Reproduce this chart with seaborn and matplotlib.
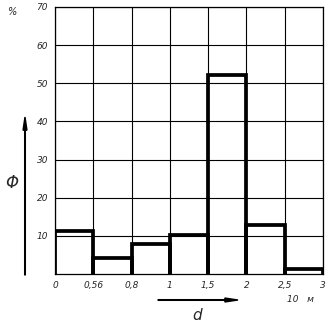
import numpy as np
import pandas as pd
import matplotlib
matplotlib.use("Agg")
import matplotlib.pyplot as plt
import seaborn as sns

# границы интервалов (подписи оси x) и доля частиц, %
edge_labels = ["0", "0,56", "0,8", "1", "1,5", "2", "2,5", "3"]
phi_values = [11.3, 4.1, 7.8, 10.2, 52.2, 12.9, 1.3]
y_ticks = [10, 20, 30, 40, 50, 60, 70]

sns.set_theme(style="white")
plt.rcParams["font.family"] = ["DejaVu Sans"]

df = pd.DataFrame({
    "pos": np.arange(len(phi_values)) + 0.5,
    "phi": phi_values,
})

fig = plt.figure(figsize=(3.28, 3.29), dpi=100)
ax = fig.add_axes([55 / 328, 55 / 329, 268 / 328, 267 / 329])

sns.histplot(data=df, x="pos", weights="phi", binwidth=1,
             binrange=(0, len(phi_values)),
             element="bars", fill=False, color="black", linewidth=2.7, ax=ax)

# опускаем нижнюю кромку столбцов под ось, чтобы её обрезало
for p in ax.patches:
    h = p.get_height()
    p.set_y(-2)
    p.set_height(h + 2)

ax.set_xlim(0, len(edge_labels) - 1)
ax.set_ylim(0, 70)
ax.set_xticks(np.arange(len(edge_labels)))
ax.set_xticklabels(edge_labels)
ax.set_yticks(y_ticks)
ax.set_yticklabels([str(v) for v in y_ticks])
ax.tick_params(length=0, labelsize=6.5, pad=5)
for lab in ax.get_xticklabels() + ax.get_yticklabels():
    lab.set_fontstyle("italic")

ax.grid(True, color="black", linewidth=0.8)
ax.set_axisbelow(True)
for sp in ax.spines.values():
    sp.set_color("black")
    sp.set_linewidth(0.9)
ax.set_xlabel("")
ax.set_ylabel("")

# стрелки и обозначения осей
fig.text(12 / 328, 1 - 12 / 329, "%", fontsize=7, style="italic", ha="center", va="center")
fig.text(300 / 328, 1 - 300 / 329, "10   м", fontsize=6.5, style="italic", ha="center", va="center")
fig.text(197 / 328, 1 - 316 / 329, "d", fontsize=11, style="italic", ha="center", va="center")
fig.text(12 / 328, 1 - 183 / 329, "Φ", fontsize=12, style="italic", ha="center", va="center")
fig.patches.append(matplotlib.patches.FancyArrow(
    158 / 328, 1 - 300 / 329, 80 / 328, 0, width=0.002, head_width=0.012,
    head_length=0.04, length_includes_head=True, color="black",
    transform=fig.transFigure, figure=fig))
fig.patches.append(matplotlib.patches.FancyArrow(
    25 / 328, 1 - 275 / 329, 0, 158 / 329, width=0.002, head_width=0.012,
    head_length=0.04, length_includes_head=True, color="black",
    transform=fig.transFigure, figure=fig))

plt.savefig("out.png", dpi=100)
plt.close()
